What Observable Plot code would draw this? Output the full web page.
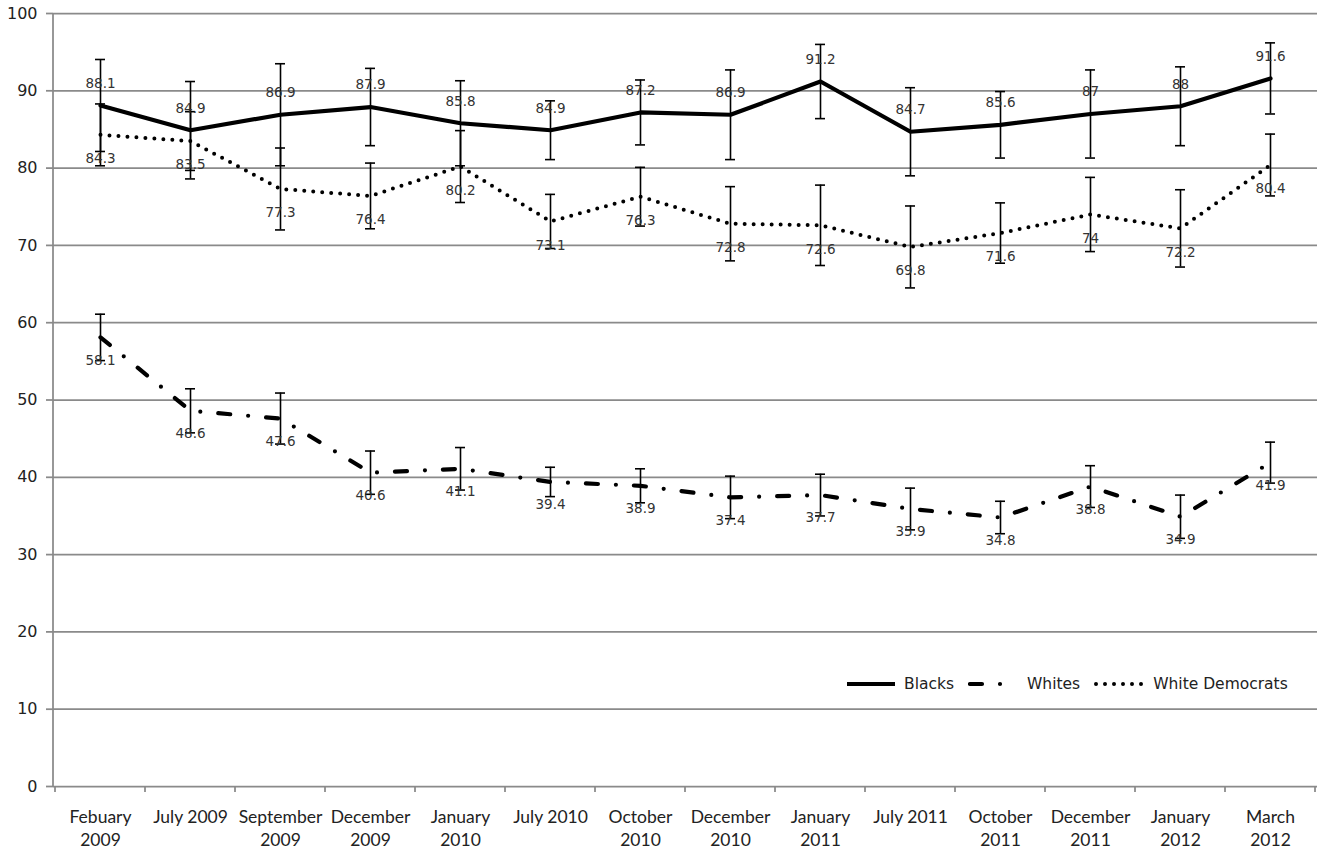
<!DOCTYPE html>
<html><head><meta charset="utf-8">
<script src="https://cdn.jsdelivr.net/npm/d3@7"></script>
<script src="https://cdn.jsdelivr.net/npm/@observablehq/plot@0.6"></script>
<style>
body{margin:0;background:#fff;}
#wrap{position:relative;width:1327px;height:852px;}
#legend{position:absolute;left:845px;top:673px;height:22px;display:flex;align-items:center;font-family:"DejaVu Sans",sans-serif;font-size:15.5px;color:#222;white-space:nowrap;}
#legend .item{display:flex;align-items:center;margin-right:14px;}
#legend svg{margin-right:7px;}
</style></head><body><div id="wrap"><div id="chart"></div><div id="legend"></div></div>
<script>
const categories = ["Febuary 2009","July 2009","September 2009","December 2009","January 2010","July 2010","October 2010","December 2010","January 2011","July 2011","October 2011","December 2011","January 2012","March 2012"];
const tickLabels = ["Febuary\n2009","July 2009","September\n2009","December\n2009","January\n2010","July 2010","October\n2010","December\n2010","January\n2011","July 2011","October\n2011","December\n2011","January\n2012","March\n2012"];
const yTicks = [0,10,20,30,40,50,60,70,80,90,100];

const blacks    = [88.1,84.9,86.9,87.9,85.8,84.9,87.2,86.9,91.2,84.7,85.6,87,88,91.6];
const blacksErr = [5.95,6.3,6.6,5.0,5.5,3.8,4.2,5.8,4.8,5.7,4.3,5.7,5.1,4.6];
const whites    = [58.1,48.6,47.6,40.6,41.1,39.4,38.9,37.4,37.7,35.9,34.8,38.8,34.9,41.9];
const whitesErr = [3.0,2.85,3.3,2.8,2.75,1.9,2.2,2.75,2.7,2.7,2.1,2.7,2.8,2.65];
const whiteDems    = [84.3,83.5,77.3,76.4,80.2,73.1,76.3,72.8,72.6,69.8,71.6,74,72.2,80.4];
const whiteDemsErr = [4.0,3.8,5.3,4.25,4.65,3.5,3.8,4.8,5.2,5.3,3.9,4.8,5.0,4.0];

const seriesNames = ["Blacks","Whites","White Democrats"];

const rows = (name, vals, errs) => vals.map((v,i)=>({series:name, cat:categories[i], v, lo:v-errs[i], hi:v+errs[i]}));
const bRows = rows("Blacks", blacks, blacksErr);
const wRows = rows("Whites", whites, whitesErr);
const dRows = rows("White Democrats", whiteDems, whiteDemsErr);
const allRows = [...bRows, ...wRows, ...dRows];

const gridColor = "#8a8a8a";
const labelStyle = {fontFamily:"DejaVu Sans", fontSize:13.5, fill:"#333"};

const frameMarks = (index, scales, values, dims) => {
  const x = scales.x;
  const bw = x(categories[1]) - x(categories[0]);
  const y0 = dims.height - dims.marginBottom;
  const g = d3.create("svg:g").attr("stroke", gridColor).attr("stroke-width", 1.75);
  const bounds = categories.map(c => x(c)).concat([x(categories[categories.length-1]) + bw]);
  for (const b of bounds) g.append("line").attr("x1", b).attr("x2", b).attr("y1", y0).attr("y2", y0 + 6);
  g.append("line").attr("x1", dims.marginLeft).attr("x2", dims.marginLeft).attr("y1", dims.marginTop).attr("y2", y0 + 1);
  return g.node();
};

const chart = Plot.plot({
  width: 1327, height: 852,
  marginLeft: 53, marginRight: 10, marginTop: 13, marginBottom: 66,
  style: {background: "#fff", color: "#222", fontFamily: "DejaVu Sans", overflow: "visible"},
  x: {type: "band", domain: categories, padding: 0},
  y: {domain: [0, 100]},
  marks: [
    Plot.gridY(yTicks, {stroke: gridColor, strokeOpacity: 1, strokeWidth: 1.75}),
    Plot.axisY(yTicks, {tickSize: 7, tickPadding: 9, stroke: gridColor, strokeWidth: 1.75, fontSize: 16, label: null}),
    Plot.axisX({tickSize: 0, tickPadding: 20, tickFormat: d => tickLabels[categories.indexOf(d)], fontFamily: "Lato", fontSize: 17.5, lineHeight: 1.31, label: null}),
    frameMarks,
    Plot.line(bRows, {x: "cat", y: "v", stroke: "#000", strokeWidth: 4.2, strokeLinejoin: "round"}),
    Plot.line(wRows, {x: "cat", y: "v", stroke: "#000", strokeWidth: 4.2, strokeDasharray: "12,18,0,18", strokeLinecap: "round"}),
    Plot.line(dRows, {x: "cat", y: "v", stroke: "#000", strokeWidth: 4, strokeDasharray: "0,9", strokeLinecap: "round"}),
    Plot.ruleX(allRows, {x: "cat", y1: "lo", y2: "hi", stroke: "#000", strokeWidth: 1.6}),
    Plot.tickY(allRows, {x: "cat", y: "hi", stroke: "#000", strokeWidth: 1.6, insetLeft: 40, insetRight: 40}),
    Plot.tickY(allRows, {x: "cat", y: "lo", stroke: "#000", strokeWidth: 1.6, insetLeft: 40, insetRight: 40}),
    Plot.text(bRows, {x: "cat", y: "v", text: d => String(d.v), dy: -22, ...labelStyle}),
    Plot.text(wRows, {x: "cat", y: "v", text: d => String(d.v), dy: 23, ...labelStyle}),
    Plot.text(dRows, {x: "cat", y: "v", text: d => String(d.v), dy: 24, ...labelStyle})
  ]
});
document.getElementById("chart").append(chart);

// legend
const legendStyles = {
  "Blacks": {dash: null, cap: "butt", w: 4},
  "Whites": {dash: "12,18,0,18", cap: "round", w: 4.2},
  "White Democrats": {dash: "0,9", cap: "round", w: 4}
};
const leg = document.getElementById("legend");
for (const name of seriesNames) {
  const s = legendStyles[name];
  const item = document.createElement("div");
  item.className = "item";
  const svg = d3.create("svg").attr("width", 52).attr("height", 10);
  const ln = svg.append("line").attr("x1", 2).attr("x2", 50).attr("y1", 5).attr("y2", 5)
    .attr("stroke", "#000").attr("stroke-width", s.w).attr("stroke-linecap", s.cap);
  if (s.dash) ln.attr("stroke-dasharray", s.dash);
  item.append(svg.node());
  const t = document.createElement("span");
  t.textContent = name;
  item.append(t);
  leg.append(item);
}
</script>
</body></html>
